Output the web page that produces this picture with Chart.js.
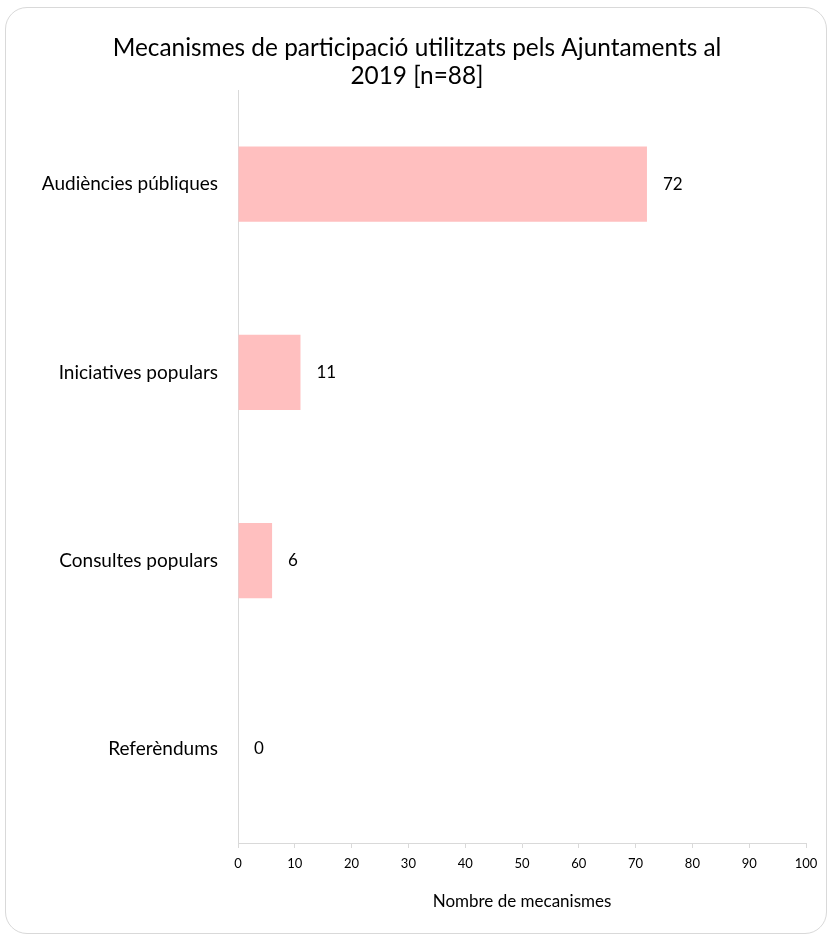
<!DOCTYPE html>
<html>
<head>
<meta charset="utf-8">
<script src="https://cdn.jsdelivr.net/npm/chart.js@4"></script>
<style>
    html, body { margin: 0; padding: 0; background: #fff; }
    #wrap { position: relative; width: 834px; height: 942px; }
    #frame {
        position: absolute; left: 5px; top: 7px; width: 822px; height: 927px;
        border: 1px solid #d9d9d9; border-radius: 22px; box-sizing: border-box;
    }
    canvas { position: absolute; left: 0; top: 0; }
</style>
</head>
<body>
<div id="wrap">
    <div id="frame"></div>
    <canvas id="chart" width="834" height="942"></canvas>
</div>
<script>
// Chart data
const categories = ['Audiències públiques', 'Iniciatives populars', 'Consultes populars', 'Referèndums'];
const mechanismCounts = [72, 11, 6, 0];
const xTicks = [0, 10, 20, 30, 40, 50, 60, 70, 80, 90, 100];

const FONT = 'Lato, "Open Sans", sans-serif';
const BAR_COLOR = '#ffbfbf';
const AXIS_COLOR = '#d9d9d9';

// Value labels to the right of each bar
const valueLabels = {
    id: 'valueLabels',
    afterDatasetsDraw(chart) {
        const ctx = chart.ctx;
        const meta = chart.getDatasetMeta(0);
        ctx.save();
        ctx.font = '17px ' + FONT;
        ctx.fillStyle = '#000';
        ctx.textAlign = 'left';
        ctx.textBaseline = 'middle';
        meta.data.forEach((bar, i) => {
            ctx.fillText(String(mechanismCounts[i]), bar.x + 16, bar.y);
        });
        ctx.restore();
    }
};

const ctx = document.getElementById('chart').getContext('2d');
new Chart(ctx, {
    type: 'bar',
    data: {
        labels: categories,
        datasets: [{
            data: mechanismCounts,
            backgroundColor: BAR_COLOR,
            borderWidth: 0,
            categoryPercentage: 1,
            barPercentage: 0.4
        }]
    },
    options: {
        indexAxis: 'y',
        responsive: false,
        animation: false,
        layout: {
            padding: { top: 0, right: 28, bottom: 26, left: 28 }
        },
        plugins: {
            legend: { display: false },
            tooltip: { enabled: false },
            title: {
                display: true,
                text: ['Mecanismes de participació utilitzats pels Ajuntaments al', '2019 [n=88]'],
                color: '#000',
                font: { family: FONT, size: 24.4, weight: 'normal', lineHeight: 1.15 },
                padding: { top: 34, bottom: 0 }
            }
        },
        scales: {
            x: {
                min: 0,
                max: 100,
                afterBuildTicks: scale => {
                    scale.ticks = xTicks.map(v => ({ value: v }));
                },
                afterFit: scale => { scale.height = 73; },
                grid: {
                    drawOnChartArea: false,
                    drawTicks: true,
                    tickLength: 5,
                    color: AXIS_COLOR
                },
                border: { color: AXIS_COLOR, width: 1 },
                ticks: {
                    color: '#000',
                    font: { family: FONT, size: 13 },
                    padding: 8,
                    maxRotation: 0
                },
                title: {
                    display: true,
                    text: 'Nombre de mecanismes',
                    color: '#000',
                    font: { family: FONT, size: 17 },
                    padding: { top: 2 }
                }
            },
            y: {
                afterFit: scale => { scale.width = 210; },
                grid: { display: false },
                border: { color: AXIS_COLOR, width: 1 },
                ticks: {
                    color: '#000',
                    font: { family: FONT, size: 19 },
                    padding: 12
                }
            }
        }
    },
    plugins: [valueLabels]
});
</script>
</body>
</html>
